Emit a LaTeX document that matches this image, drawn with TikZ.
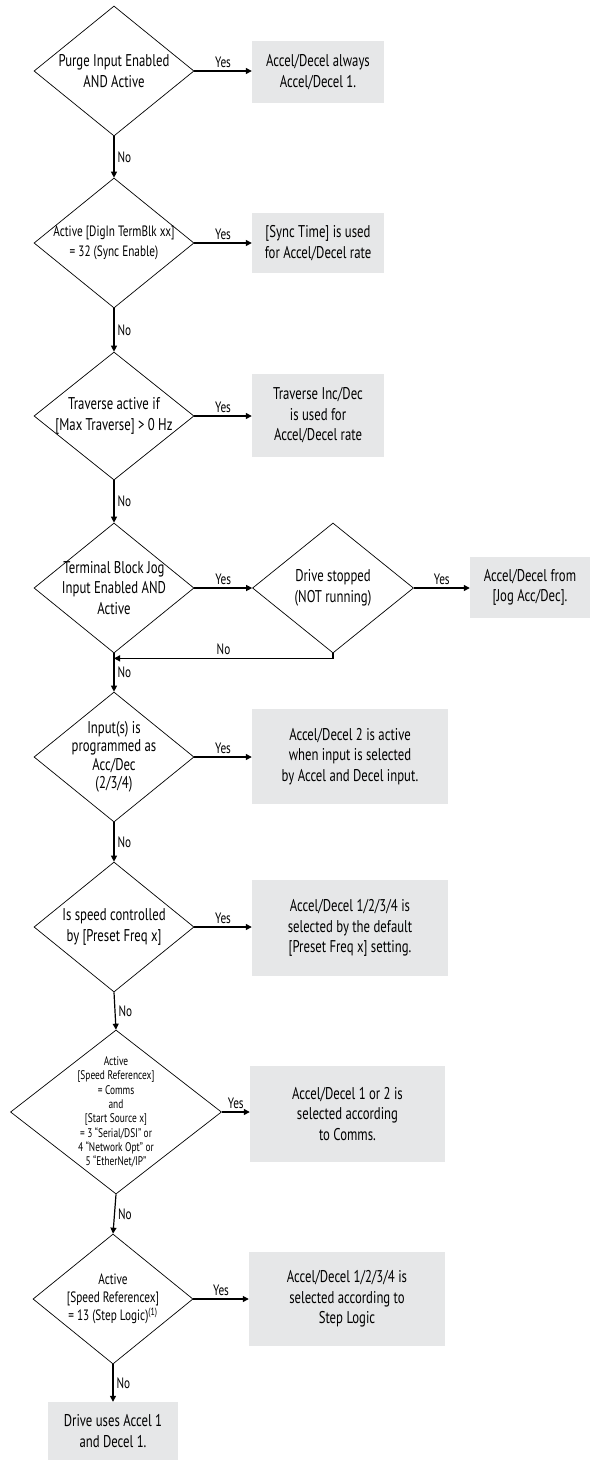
\documentclass[tikz,border=0pt]{standalone}
\usepackage{fontspec}
\setmainfont[FakeStretch=0.75]{PT Sans}
\usetikzlibrary{positioning, arrows.meta, shapes.geometric}
\definecolor{boxgray}{RGB}{230,231,232}

\begin{document}
\begin{tikzpicture}[x=1pt, y=-1pt,
    font=\fontsize{17}{20.5}\selectfont,
    dec/.style={diamond, draw, line width=0.7pt, align=center, inner sep=-14pt,
      aspect=1.23, minimum width=160pt, minimum height=130pt},
    act/.style={fill=boxgray, align=center, inner sep=0pt},
    arr/.style={-{Triangle[length=6pt, width=6pt]}, line width=1.2pt},
    lab/.style={font=\fontsize{15}{16}\selectfont, inner sep=3pt}]
  \useasboundingbox (0,0) rectangle (590,1460);
  % decisions, left column
  \node[dec] (purge) at (114,71) {Purge Input Enabled\\AND Active};
  \node[dec, font=\fontsize{15}{20}\selectfont] (sync) at (114,243)
    {Active [DigIn TermBlk xx]\\= 32 (Sync Enable)};
  \node[dec, minimum height=128pt] (trav) at (114,416)
    {Traverse active if\\{[Max Traverse]} > 0 Hz};
  \node[dec] (jog) at (114,588) {Terminal Block Jog\\Input Enabled AND\\Active};
  \node[dec, minimum width=161pt] (stop) at (333,588) {Drive stopped\\(NOT running)};
  \node[dec, font=\fontsize{17}{18.5}\selectfont] (inp) at (114,757)
    {Input(s) is\\programmed as\\Acc/Dec\\(2/3/4)};
  \node[dec] (preset) at (114,927) {Is speed controlled\\by [Preset Freq x]};
  \node[dec, minimum width=211pt, minimum height=164pt,
    font=\fontsize{12.5}{14.3}\selectfont] (comms) at (116,1112)
    {Active\\{[Speed Referencex]}\\= Comms\\and\\{[Start Source x]}\\
     = 3 ``Serial/DSI'' or\\4 ``Network Opt'' or\\5 ``EtherNet/IP''};
  \node[dec, font=\fontsize{15}{18}\selectfont] (steplog) at (113,1299)
    {Active\\{[Speed Referencex]}\\= 13 (Step Logic)\textsuperscript{(1)}};
  % result boxes
  \node[act, minimum width=132pt, minimum height=62pt] (r1) at (318,72)
    {Accel/Decel always\\Accel/Decel 1.};
  \node[act, minimum width=132pt, minimum height=60pt] (r2) at (318,243)
    {[Sync Time] is used\\for Accel/Decel rate};
  \node[act, minimum width=132pt, minimum height=83pt] (r3) at (318,415.5)
    {Traverse Inc/Dec\\is used for\\Accel/Decel rate};
  \node[act, minimum width=120pt, minimum height=61pt] (r4) at (530,587.5)
    {Accel/Decel from\\{[Jog Acc/Dec].}};
  \node[act, minimum width=196pt, minimum height=95pt] (r5) at (350,756.5)
    {Accel/Decel 2 is active\\when input is selected\\by Accel and Decel input.};
  \node[act, minimum width=196pt, minimum height=96pt] (r6) at (350,928)
    {Accel/Decel 1/2/3/4 is\\selected by the default\\{[Preset Freq x]} setting.};
  \node[act, minimum width=195pt, minimum height=96pt] (r7) at (347.5,1114)
    {Accel/Decel 1 or 2 is\\selected according\\to Comms.};
  \node[act, minimum width=196pt, minimum height=94pt] (r8) at (347,1299)
    {Accel/Decel 1/2/3/4 is\\selected according to\\Step Logic};
  \node[act, minimum width=130pt, minimum height=58pt] (r9) at (113,1431)
    {Drive uses Accel 1\\and Decel 1.};
  % yes branches
  \draw[arr] (purge.east) -- node[above, lab] {Yes} (r1.west |- purge.east);
  \draw[arr] (sync.east) -- node[above, lab] {Yes} (r2.west |- sync.east);
  \draw[arr] (trav.east) -- node[above, lab] {Yes} (r3.west |- trav.east);
  \draw[arr] (jog.east) -- node[above, lab] {Yes} (stop.west);
  \draw[arr] (stop.east) -- node[above, lab] {Yes} (r4.west |- stop.east);
  \draw[arr] (inp.east) -- node[above, lab] {Yes} (r5.west |- inp.east);
  \draw[arr] (preset.east) -- node[above, lab] {Yes} (r6.west |- preset.east);
  \draw[arr] (comms.east) -- node[above, lab] {Yes} (r7.west |- comms.east);
  \draw[arr] (steplog.east) -- node[above, lab] {Yes} (r8.west |- steplog.east);
  % no branches
  \draw[arr] (purge.south) -- node[right, lab] {No} (sync.north);
  \draw[arr] (sync.south) -- node[right, lab] {No} (trav.north);
  \draw[arr] (trav.south) -- node[right, lab] {No} (jog.north);
  \draw[arr] (jog.south) -- node[right, lab] {No} (inp.north);
  \draw[arr] (stop.south) -- ++(0,5) coordinate (back)
    -- node[above, lab] {No} (back -| jog.south);
  \draw[arr] (inp.south) -- node[right, lab] {No} (preset.north);
  \draw[arr] (preset.south) -- node[right, lab] {No} (comms.north);
  \draw[arr] (comms.south) -- node[right, lab] {No} (steplog.north);
  \draw[arr] (steplog.south) -- node[right, lab] {No} (r9.north);
\end{tikzpicture}
\end{document}
